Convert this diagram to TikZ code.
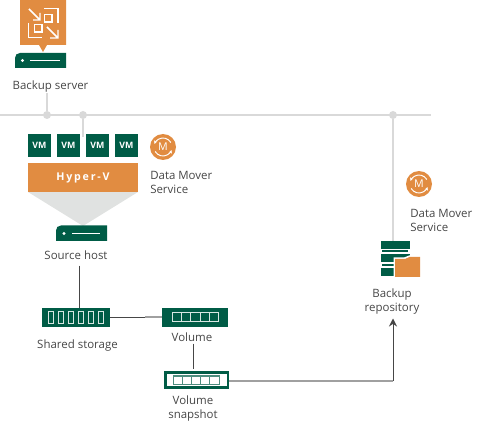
\documentclass[tikz,border=0pt]{standalone}
\usepackage{fontspec}
\setmainfont{Open Sans}
\usetikzlibrary{arrows.meta}
\definecolor{vgreen}{RGB}{0,92,70}
\definecolor{vorange}{RGB}{225,140,65}
\definecolor{vgray}{RGB}{217,217,217}
\definecolor{vfunnel}{RGB}{224,226,225}
\definecolor{vtext}{RGB}{70,70,70}
\definecolor{vline}{RGB}{70,70,70}
\definecolor{vlinegray}{RGB}{160,160,160}
\tikzset{
  lbl/.style={inner sep=0pt,text=vtext,font=\fontsize{8.6pt}{10.5pt}\selectfont,align=center},
  lblleft/.style={lbl,align=left,anchor=north west},
  netline/.style={draw=vgray,line width=1.5pt},
  netdot/.style={circle,fill=vgray,inner sep=0pt,minimum size=6pt},
  link/.style={draw=vline,line width=0.75pt},
  linkgray/.style={draw=vlinegray,line width=1.5pt},
  greenbox/.style={fill=vgreen,inner sep=0pt,minimum width=#1*0.75pt,minimum height=14.25pt},
  vmbox/.style={fill=vgreen,text=white,inner sep=0pt,minimum width=17.25pt,minimum height=17.25pt,font=\fontsize{6.6pt}{7pt}\selectfont\bfseries},
  moverdisc/.style={circle,fill=vorange,inner sep=0pt,minimum size=19.5pt,text=white,font=\fontsize{8pt}{8pt}\selectfont},
  cell/.style={draw=white!85!vgreen,line width=0.75pt},
  ring/.style={draw=white,line width=0.7pt,-{Stealth[length=2.5pt,width=2.5pt]}}
}
\begin{document}
\begin{tikzpicture}[x=0.75pt,y=0.75pt,yscale=-1,xscale=1]
\useasboundingbox (0,0) rectangle (483,428);

% network
\coordinate (netleft) at (0,115);
\coordinate (netright) at (431,115);
\draw [netline] (netleft) -- (netright);
\node [netdot] (dotserver) at (47,115) {};
\node [netdot] (dothost) at (83,115) {};
\node [netdot] (dotrepo) at (393,115) {};

% backup server
\fill [vorange] (20,0) -- (66,0) -- (66,45) -- (47,45) -- (43,52) -- (39,45) -- (20,45) -- cycle;
\draw [white,line width=0.8pt] (44,8.5) -- (58,8.5) -- (58,23) (28.5,23) -- (28.5,37.5) -- (42,37.5);
\draw [white,line width=0.8pt] (44.5,14.5) rectangle (52,22) (34.5,24.5) rectangle (42,32);
\draw [white,line width=1.1pt] (29,9) -- (40,20) (40,13) -- (40,20) -- (33,20);
\draw [white,line width=1.1pt] (47,27) -- (58,38) (58,30) -- (58,38) -- (50,38);
\fill [vgreen] (15,68) -- (15,58) .. controls (15,55) and (17,53) .. (20,53) -- (66,53) -- (66,68) -- cycle;
\fill [white] (22.5,60.5) circle (1.6);
\draw [white,line width=0.5pt] (30,60.5) -- (60,60.5);
\node [lbl] (serverlabel) at (50.5,87) {Backup server};
\draw [netline] (serverlabel.south -| dotserver) -- (dotserver);

% virtual machines
\foreach \vmx/\vmname in {39.5/vma,68.5/vmb,97.5/vmc,126.5/vmd}
  \node [vmbox] (\vmname) at (\vmx,145.5) {VM};
\draw [netline] (dothost) -- (83,137);

% hyper-v host
\fill [vfunnel] (28,192) -- (138,192) -- (83,226) -- cycle;
\node [fill=vorange,text=white,inner sep=0pt,minimum width=82.5pt,minimum height=22pt,font=\fontsize{8pt}{9pt}\selectfont\bfseries] (hyperv) at (83,177.5) {H\,y\,p\,e\,r\,-\,V};
\fill [vgreen] (56,241) -- (56,230.5) .. controls (56,227.5) and (58,225.5) .. (61,225.5) -- (107,225.5) -- (107,241) -- cycle;
\fill [white] (64,233.5) circle (1.6);
\draw [white,line width=0.5pt] (72,233.5) -- (100,233.5);
\node [lbl] (hostlabel) at (76,255.5) {Source host};

% data mover on host
\node [moverdisc] (moverhost) at (163,147) {M};
\draw [ring] (163,147) ++(150:9) arc (150:20:9);
\draw [ring] (163,147) ++(330:9) arc (330:200:9);
\node [lblleft] (moverhostlabel) at (150,171) {Data Mover\\Service};

% data mover on repository
\node [moverdisc] (moverrepo) at (419,184) {M};
\draw [ring] (419,184) ++(150:9) arc (150:20:9);
\draw [ring] (419,184) ++(330:9) arc (330:200:9);
\node [lblleft] (moverrepolabel) at (410,209) {Data Mover\\Service};

% repository
\fill [vgreen] (381,241) rectangle (409.5,249);
\fill [vgreen] (382,250.5) rectangle (408,252.5);
\fill [vgreen] (381,254) rectangle (409.5,262);
\fill [vgreen] (382,264) rectangle (396,266);
\fill [vgreen] (381,268) rectangle (396,276);
\fill [white] (393.5,257.5) -- (404,257.5) -- (409,255.5) -- (421,255.5) -- (421,278) -- (393.5,278) -- cycle;
\fill [vorange] (395,277) -- (395,259) -- (405,259) -- (409.5,257) -- (420,257) -- (420,277) -- cycle;
\coordinate (repotop) at (393,241);
\draw [netline] (dotrepo) -- (repotop);
\node [lbl] (repolabel) at (392,301.5) {Backup\\repository};

% shared storage
\node [greenbox=68] (storage) at (76,317.5) {};
\foreach \cellx in {0,...,5}
  \draw [cell] ({48+\cellx*10},311.5) rectangle ++(5,12);
\node [lbl] (storagelabel) at (77.5,346) {Shared storage};

% volume
\node [greenbox=66] (volume) at (195,317.5) {};
\draw [cell,fill=vgreen] (172.5,313) rectangle (218.5,322);
\foreach \cellx in {1,...,4}
  \draw [cell] ({172.5+\cellx*9.2},313) -- ++(0,9);
\node [lbl] (volumelabel) at (192,337) {Volume};

% snapshot
\node [greenbox=65,minimum height=13.5pt] (snapshot) at (196.5,380) {};
\fill [white] (166.5,374) rectangle (227,386);
\draw [draw=vgreen!70!white,line width=0.75pt] (173.5,376) rectangle (219,384);
\foreach \cellx in {1,...,4}
  \draw [draw=vgreen!70!white,line width=0.75pt] ({173.5+\cellx*9.1},376) -- ++(0,8);
\node [lbl] (snapshotlabel) at (193,408.5) {Volume\\snapshot};

% connectors
\coordinate (storagemid) at (145,317.5);
\coordinate (snapcorner) at (393,381);
\draw [link,shorten <=4pt] ([xshift=1.5pt]hostlabel.south -| storagelabel) -- ([xshift=1.5pt]storage.north -| storagelabel);
\draw [link] (storage.east) -- (storagemid);
\draw [linkgray] (storagemid) -- (volume.west);
\draw [link] (volumelabel.south) ++(1,2) -- (193,369);
\draw [linkgray] (snapshot.east |- snapcorner) -- (snapcorner);
\draw [link,-{Stealth[length=6pt,width=6pt]},shorten >=3pt] (snapcorner) -- (snapcorner |- repolabel.south);

\end{tikzpicture}
\end{document}
